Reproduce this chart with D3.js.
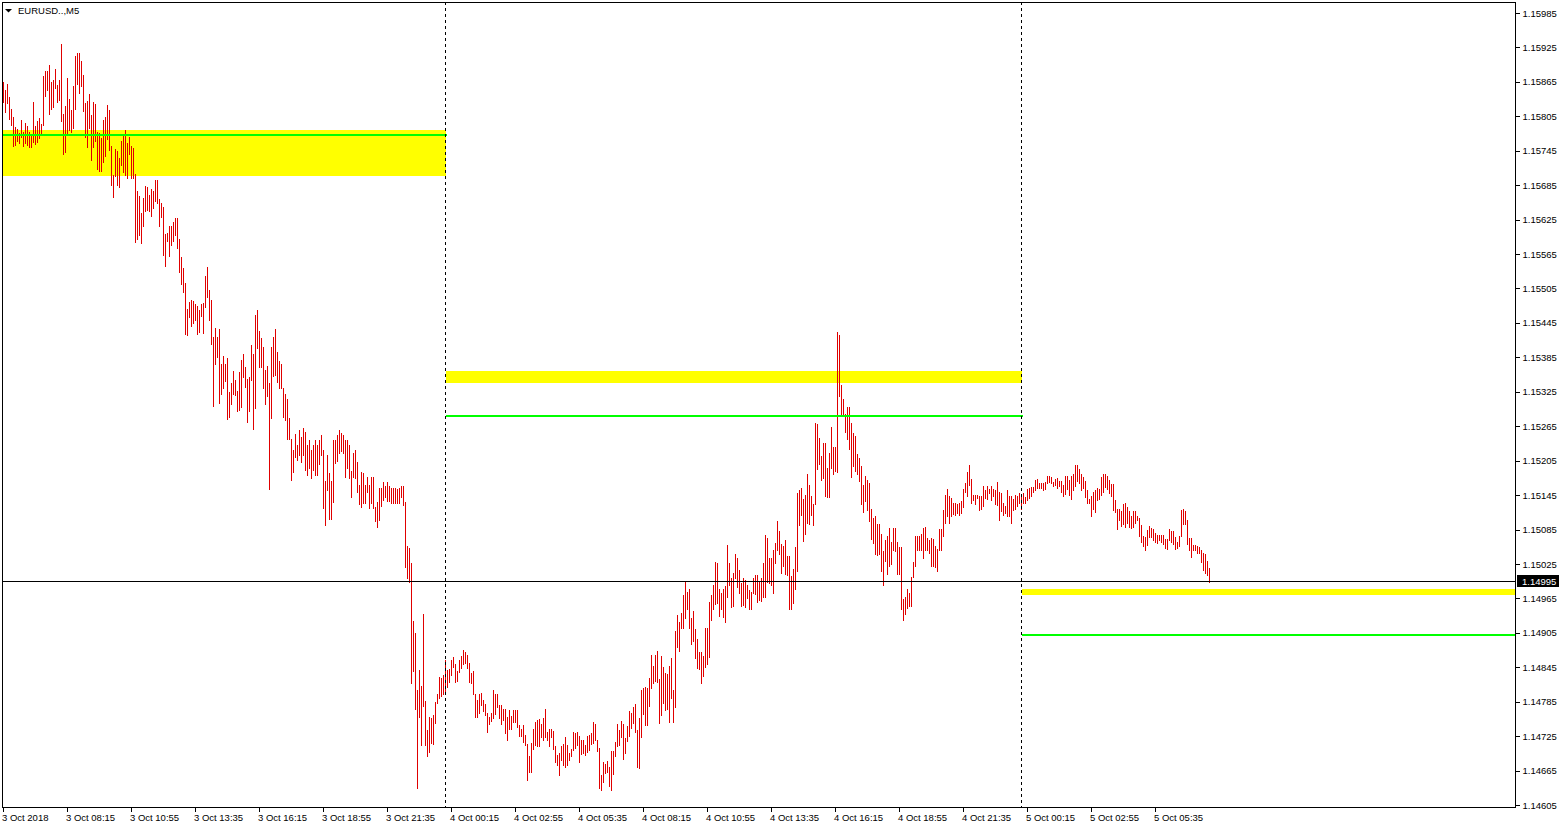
<!DOCTYPE html>
<html><head><meta charset="utf-8">
<script src="https://cdn.jsdelivr.net/npm/d3@7"></script>
<style>html,body{margin:0;padding:0;background:#fff;overflow:hidden}</style>
</head><body><svg id="c" width="1559" height="829"></svg>
<script>
const symbol = "EURUSD..,M5";
const highs = [
1.15864,1.15851,1.15861,1.15839,1.15818,1.15804,1.15787,1.15783,1.15776,1.15799,
1.15778,1.15793,1.15788,1.15778,1.15772,1.15830,1.15788,1.15797,1.15802,1.15792,
1.15875,1.15884,1.15884,1.15894,1.15864,1.15868,1.15887,1.15860,1.15868,1.15931,
1.15809,1.15823,1.15872,1.15835,1.15816,1.15858,1.15910,1.15916,1.15916,1.15902,
1.15877,1.15828,1.15832,1.15844,1.15807,1.15830,1.15826,1.15777,1.15776,1.15768,
1.15799,1.15804,1.15825,1.15816,1.15753,1.15703,1.15748,1.15745,1.15732,1.15762,
1.15771,1.15781,1.15759,1.15769,1.15753,1.15750,1.15704,1.15675,1.15666,1.15636,
1.15662,1.15684,1.15681,1.15668,1.15678,1.15675,1.15694,1.15694,1.15661,1.15654,
1.15647,1.15600,1.15602,1.15613,1.15614,1.15620,1.15627,1.15627,1.15592,1.15559,
1.15540,1.15514,1.15470,1.15481,1.15485,1.15484,1.15478,1.15474,1.15467,1.15478,
1.15480,1.15527,1.15542,1.15502,1.15485,1.15421,1.15437,1.15421,1.15434,1.15373,
1.15387,1.15373,1.15384,1.15325,1.15341,1.15361,1.15345,1.15327,1.15360,1.15380,
1.15391,1.15369,1.15347,1.15351,1.15406,1.15391,1.15459,1.15467,1.15431,1.15418,
1.15403,1.15363,1.15370,1.15340,1.15403,1.15421,1.15434,1.15394,1.15378,1.15373,
1.15331,1.15322,1.15313,1.15280,1.15242,1.15223,1.15252,1.15233,1.15258,1.15246,
1.15262,1.15255,1.15232,1.15241,1.15223,1.15232,1.15241,1.15232,1.15241,1.15250,
1.15223,1.15169,1.15215,1.15183,1.15170,1.15241,1.15241,1.15250,1.15258,1.15253,
1.15250,1.15241,1.15241,1.15232,1.15187,1.15218,1.15223,1.15203,1.15162,1.15186,
1.15184,1.15162,1.15176,1.15162,1.15176,1.15177,1.15125,1.15133,1.15157,1.15158,
1.15167,1.15160,1.15168,1.15160,1.15158,1.15157,1.15157,1.15155,1.15157,1.15161,
1.15160,1.15133,1.15056,1.15052,1.15026,1.14925,1.14905,1.14805,1.14840,1.14812,
1.14938,1.14786,1.14735,1.14758,1.14756,1.14761,1.14785,1.14799,1.14828,1.14827,
1.14831,1.14857,1.14840,1.14842,1.14857,1.14863,1.14850,1.14839,1.14857,1.14864,
1.14875,1.14872,1.14866,1.14852,1.14835,1.14839,1.14799,1.14788,1.14798,1.14801,
1.14788,1.14781,1.14766,1.14759,1.14766,1.14805,1.14799,1.14799,1.14780,1.14779,
1.14773,1.14773,1.14759,1.14770,1.14760,1.14770,1.14770,1.14770,1.14744,1.14737,
1.14744,1.14727,1.14712,1.14690,1.14713,1.14738,1.14750,1.14753,1.14754,1.14747,
1.14756,1.14773,1.14733,1.14737,1.14738,1.14734,1.14708,1.14692,1.14695,1.14708,
1.14712,1.14723,1.14709,1.14695,1.14702,1.14733,1.14730,1.14733,1.14725,1.14719,
1.14719,1.14709,1.14725,1.14727,1.14730,1.14750,1.14746,1.14719,1.14705,1.14657,
1.14680,1.14677,1.14682,1.14672,1.14699,1.14699,1.14715,1.14747,1.14735,1.14751,
1.14746,1.14721,1.14742,1.14769,1.14766,1.14776,1.14781,1.14736,1.14757,1.14806,
1.14808,1.14811,1.14809,1.14827,1.14866,1.14847,1.14866,1.14873,1.14824,1.14864,
1.14846,1.14835,1.14833,1.14847,1.14861,1.14806,1.14908,1.14936,1.14924,1.14939,
1.14971,1.14996,1.14977,1.14981,1.14931,1.14943,1.14911,1.14895,1.14871,1.14871,
1.14865,1.14913,1.14913,1.14959,1.14971,1.14988,1.15029,1.15027,1.14981,1.14975,
1.14982,1.14987,1.15058,1.15027,1.15000,1.15010,1.15042,1.15036,1.15014,1.14991,
1.15001,1.14997,1.14989,1.14979,1.14977,1.15001,1.15006,1.15006,1.14996,1.15001,
1.15026,1.15075,1.15071,1.15036,1.15036,1.15049,1.15062,1.15100,1.15083,1.15060,
1.15056,1.15067,1.15038,1.15038,1.15004,1.15017,1.15055,1.15149,1.15153,1.15157,
1.15139,1.15145,1.15182,1.15162,1.15143,1.15130,1.15271,1.15269,1.15244,1.15213,
1.15235,1.15236,1.15193,1.15218,1.15264,1.15228,1.15228,1.15430,1.15424,1.15337,
1.15312,1.15287,1.15298,1.15298,1.15270,1.15254,1.15248,1.15216,1.15209,1.15195,
1.15162,1.15178,1.15171,1.15166,1.15120,1.15105,1.15108,1.15094,1.15094,1.15077,
1.15048,1.15067,1.15073,1.15087,1.15064,1.15087,1.15087,1.15064,1.15055,1.15055,
1.14964,1.14967,1.14981,1.14975,1.15003,1.15029,1.15074,1.15074,1.15074,1.15078,
1.15087,1.15089,1.15070,1.15066,1.15070,1.15068,1.15056,1.15051,1.15086,1.15086,
1.15119,1.15146,1.15155,1.15144,1.15140,1.15131,1.15131,1.15130,1.15132,1.15134,
1.15155,1.15166,1.15186,1.15198,1.15173,1.15146,1.15146,1.15146,1.15143,1.15144,
1.15160,1.15154,1.15160,1.15156,1.15160,1.15155,1.15153,1.15168,1.15150,1.15149,
1.15131,1.15126,1.15154,1.15143,1.15143,1.15138,1.15146,1.15144,1.15149,1.15147,
1.15149,1.15142,1.15155,1.15157,1.15159,1.15159,1.15172,1.15173,1.15166,1.15166,
1.15166,1.15168,1.15179,1.15178,1.15176,1.15167,1.15173,1.15175,1.15169,1.15169,
1.15163,1.15179,1.15178,1.15171,1.15178,1.15182,1.15198,1.15198,1.15190,1.15182,
1.15176,1.15169,1.15154,1.15138,1.15144,1.15151,1.15154,1.15157,1.15155,1.15176,
1.15182,1.15182,1.15179,1.15171,1.15165,1.15164,1.15136,1.15121,1.15121,1.15117,
1.15130,1.15132,1.15124,1.15117,1.15108,1.15117,1.15117,1.15109,1.15105,1.15093,
1.15074,1.15072,1.15085,1.15092,1.15088,1.15086,1.15079,1.15076,1.15076,1.15076,
1.15076,1.15068,1.15068,1.15086,1.15083,1.15082,1.15072,1.15064,1.15074,1.15119,
1.15121,1.15117,1.15102,1.15070,1.15070,1.15058,1.15058,1.15056,1.15054,1.15049,
1.15044,1.15043,1.15031,1.15018];
const lows = [
1.15830,1.15813,1.15829,1.15800,1.15790,1.15754,1.15755,1.15762,1.15759,1.15769,
1.15753,1.15759,1.15755,1.15752,1.15752,1.15761,1.15756,1.15761,1.15767,1.15772,
1.15790,1.15840,1.15851,1.15809,1.15817,1.15822,1.15855,1.15830,1.15833,1.15797,
1.15739,1.15743,1.15772,1.15781,1.15778,1.15784,1.15818,1.15861,1.15845,1.15857,
1.15815,1.15769,1.15752,1.15785,1.15728,1.15752,1.15762,1.15713,1.15710,1.15710,
1.15726,1.15735,1.15765,1.15747,1.15685,1.15664,1.15701,1.15685,1.15682,1.15720,
1.15708,1.15703,1.15697,1.15739,1.15697,1.15697,1.15586,1.15591,1.15599,1.15584,
1.15613,1.15640,1.15642,1.15640,1.15632,1.15645,1.15658,1.15654,1.15614,1.15629,
1.15563,1.15545,1.15588,1.15562,1.15581,1.15588,1.15598,1.15575,1.15533,1.15513,
1.15498,1.15426,1.15424,1.15456,1.15440,1.15444,1.15450,1.15426,1.15430,1.15457,
1.15428,1.15473,1.15491,1.15450,1.15409,1.15301,1.15374,1.15386,1.15306,1.15321,
1.15331,1.15344,1.15277,1.15281,1.15303,1.15322,1.15319,1.15291,1.15294,1.15298,
1.15351,1.15333,1.15273,1.15292,1.15346,1.15261,1.15296,1.15402,1.15369,1.15369,
1.15332,1.15303,1.15318,1.15155,1.15279,1.15352,1.15355,1.15342,1.15331,1.15331,
1.15281,1.15276,1.15242,1.15242,1.15171,1.15186,1.15212,1.15207,1.15215,1.15203,
1.15215,1.15189,1.15180,1.15192,1.15175,1.15189,1.15180,1.15180,1.15199,1.15215,
1.15123,1.15093,1.15154,1.15103,1.15104,1.15133,1.15201,1.15204,1.15218,1.15221,
1.15218,1.15177,1.15193,1.15174,1.15142,1.15176,1.15174,1.15151,1.15129,1.15125,
1.15132,1.15132,1.15151,1.15123,1.15132,1.15122,1.15099,1.15090,1.15101,1.15126,
1.15137,1.15142,1.15135,1.15135,1.15132,1.15131,1.15131,1.15132,1.15131,1.15142,
1.15128,1.15020,1.15000,1.14994,1.14818,1.14839,1.14773,1.14634,1.14759,1.14709,
1.14777,1.14709,1.14690,1.14698,1.14713,1.14711,1.14748,1.14782,1.14792,1.14795,
1.14799,1.14804,1.14810,1.14820,1.14831,1.14845,1.14820,1.14821,1.14836,1.14843,
1.14850,1.14852,1.14843,1.14820,1.14818,1.14799,1.14758,1.14758,1.14766,1.14779,
1.14769,1.14761,1.14733,1.14747,1.14752,1.14756,1.14764,1.14776,1.14756,1.14747,
1.14753,1.14730,1.14719,1.14737,1.14737,1.14750,1.14750,1.14741,1.14725,1.14725,
1.14715,1.14709,1.14649,1.14663,1.14663,1.14703,1.14709,1.14708,1.14708,1.14724,
1.14718,1.14724,1.14718,1.14708,1.14724,1.14703,1.14680,1.14674,1.14657,1.14683,
1.14674,1.14672,1.14674,1.14683,1.14690,1.14700,1.14705,1.14709,1.14680,1.14694,
1.14695,1.14692,1.14698,1.14700,1.14711,1.14713,1.14718,1.14699,1.14634,1.14631,
1.14645,1.14660,1.14663,1.14638,1.14632,1.14659,1.14690,1.14708,1.14709,1.14723,
1.14686,1.14696,1.14717,1.14725,1.14740,1.14748,1.14732,1.14671,1.14670,1.14724,
1.14764,1.14745,1.14745,1.14778,1.14809,1.14818,1.14821,1.14820,1.14748,1.14762,
1.14783,1.14771,1.14773,1.14750,1.14792,1.14750,1.14776,1.14881,1.14874,1.14914,
1.14914,1.14930,1.14946,1.14913,1.14885,1.14891,1.14861,1.14843,1.14842,1.14817,
1.14830,1.14846,1.14850,1.14863,1.14927,1.14946,1.14955,1.14957,1.14935,1.14946,
1.14933,1.14924,1.14968,1.14988,1.14950,1.14952,1.15001,1.14985,1.14974,1.14952,
1.14954,1.14950,1.14965,1.14947,1.14947,1.14974,1.14972,1.14959,1.14962,1.14961,
1.14968,1.14967,1.14994,1.14992,1.14989,1.14975,1.15027,1.15049,1.15043,1.15010,
1.15021,1.15007,1.15006,1.14947,1.14946,1.14957,1.14981,1.15013,1.15093,1.15110,
1.15065,1.15078,1.15096,1.15094,1.15110,1.15093,1.15129,1.15190,1.15200,1.15171,
1.15174,1.15144,1.15142,1.15142,1.15192,1.15182,1.15187,1.15186,1.15318,1.15284,
1.15282,1.15255,1.15242,1.15226,1.15177,1.15196,1.15187,1.15182,1.15170,1.15130,
1.15115,1.15135,1.15119,1.15100,1.15068,1.15062,1.15042,1.15040,1.15043,1.15013,
1.14989,1.15030,1.15007,1.15021,1.15025,1.15049,1.15048,1.15007,1.15008,1.14946,
1.14927,1.14938,1.14948,1.14951,1.14952,1.15002,1.15022,1.15050,1.15050,1.15050,
1.15035,1.15050,1.15050,1.15044,1.15021,1.15022,1.15019,1.15012,1.15050,1.15050,
1.15073,1.15096,1.15109,1.15097,1.15109,1.15112,1.15111,1.15114,1.15111,1.15114,
1.15125,1.15151,1.15144,1.15163,1.15132,1.15137,1.15130,1.15140,1.15119,1.15121,
1.15126,1.15140,1.15138,1.15149,1.15137,1.15143,1.15130,1.15128,1.15102,1.15117,
1.15111,1.15114,1.15108,1.15108,1.15096,1.15119,1.15121,1.15126,1.15131,1.15121,
1.15131,1.15131,1.15137,1.15140,1.15143,1.15151,1.15153,1.15157,1.15157,1.15157,
1.15154,1.15155,1.15166,1.15167,1.15166,1.15161,1.15163,1.15157,1.15160,1.15150,
1.15143,1.15147,1.15155,1.15146,1.15138,1.15153,1.15161,1.15170,1.15166,1.15154,
1.15157,1.15142,1.15132,1.15131,1.15109,1.15121,1.15115,1.15137,1.15138,1.15146,
1.15150,1.15159,1.15155,1.15149,1.15143,1.15119,1.15115,1.15086,1.15102,1.15092,
1.15095,1.15090,1.15097,1.15089,1.15088,1.15089,1.15097,1.15102,1.15074,1.15063,
1.15057,1.15049,1.15058,1.15072,1.15072,1.15067,1.15063,1.15061,1.15066,1.15064,
1.15060,1.15053,1.15051,1.15066,1.15063,1.15060,1.15051,1.15053,1.15056,1.15074,
1.15095,1.15095,1.15060,1.15049,1.15037,1.15050,1.15049,1.15044,1.15044,1.15029,
1.15014,1.15010,1.15006,1.14993];
const timeLabels = ["3 Oct 2018","3 Oct 08:15","3 Oct 10:55","3 Oct 13:35","3 Oct 16:15","3 Oct 18:55","3 Oct 21:35",
  "4 Oct 00:15","4 Oct 02:55","4 Oct 05:35","4 Oct 08:15","4 Oct 10:55","4 Oct 13:35","4 Oct 16:15","4 Oct 18:55","4 Oct 21:35",
  "5 Oct 00:15","5 Oct 02:55","5 Oct 05:35"];
const barsPerLabel = 32;
const priceTicks = [1.15985,1.15925,1.15865,1.15805,1.15745,1.15685,1.15625,1.15565,1.15505,1.15445,1.15385,1.15325,
  1.15265,1.15205,1.15145,1.15085,1.15025,1.14965,1.14905,1.14845,1.14785,1.14725,1.14665,1.14605];
const currentPrice = 1.14995;
const daySeparators = [221, 509];           // bar index of 4 Oct 00:00 and 5 Oct 00:00
const zoneFrom = [-10, 221.5, 509.5];       // zones in bar-index units
const zoneTo = [221.5, 509.5, 800];
const zoneHigh = [1.15781, 1.15361, 1.14981];
const zoneLow = [1.15701, 1.15340, 1.14971];
const zoneLevel = [1.15772, 1.15282, 1.14901];

const W = 1559, H = 829;
const P = {l: 2, t: 2, r: 1515, b: 807};
const FONT = "'Liberation Sans', Arial, sans-serif";
const svg = d3.select("#c");
const x = d3.scaleLinear().domain([0, 756]).range([3, 1515]);
const y = d3.scaleLinear().domain([1.14605, 1.15985]).range([805, 13]);
const R = v => Math.round(v);

svg.append("rect").attr("width", W).attr("height", H).attr("fill", "#fff");
svg.append("defs").append("clipPath").attr("id", "pc").append("rect")
  .attr("x", P.l + 1).attr("y", P.t + 1).attr("width", P.r - P.l - 1).attr("height", P.b - P.t - 1);
const g = svg.append("g").attr("clip-path", "url(#pc)").attr("shape-rendering", "crispEdges");

const zi = zoneHigh.map((d, i) => i);
g.selectAll("rect.zone").data(zi).join("rect").attr("class", "zone")
  .attr("x", i => R(x(zoneFrom[i]))).attr("width", i => R(x(zoneTo[i])) - R(x(zoneFrom[i])))
  .attr("y", i => R(y(zoneHigh[i]))).attr("height", i => R(y(zoneLow[i])) - R(y(zoneHigh[i])))
  .attr("fill", "#ffff00");

g.selectAll("rect.bar").data(highs.map((h, i) => i)).join("rect").attr("class", "bar")
  .attr("x", i => R(x(i))).attr("width", 1)
  .attr("y", i => R(y(highs[i])))
  .attr("height", i => Math.max(1, R(y(lows[i])) - R(y(highs[i])) + 1))
  .attr("fill", "#e00000");

g.selectAll("rect.lvl").data(zi).join("rect").attr("class", "lvl")
  .attr("x", i => R(x(zoneFrom[i]))).attr("width", i => R(x(zoneTo[i])) - R(x(zoneFrom[i])) + 1)
  .attr("y", i => R(y(zoneLevel[i])) - 1).attr("height", 2)
  .attr("fill", "#00ff00");

g.selectAll("line.sep").data(daySeparators).join("line").attr("class", "sep")
  .attr("x1", d => R(x(d)) + 0.5).attr("x2", d => R(x(d)) + 0.5)
  .attr("y1", P.t).attr("y2", P.b)
  .attr("stroke", "#000").attr("stroke-width", 1).attr("stroke-dasharray", "3,3");

const cy = Math.floor(y(currentPrice)) + 0.5;
g.append("line").attr("x1", P.l).attr("x2", P.r).attr("y1", cy).attr("y2", cy)
  .attr("stroke", "#000").attr("stroke-width", 1);

svg.append("rect").attr("x", P.l + 0.5).attr("y", P.t + 0.5).attr("width", P.r - P.l).attr("height", P.b - P.t)
  .attr("fill", "none").attr("stroke", "#000").attr("shape-rendering", "crispEdges");

const ay = svg.append("g").attr("transform", `translate(${P.r + 0.5},0)`)
  .call(d3.axisRight(y).tickValues(priceTicks).tickSize(4).tickPadding(3).tickFormat(d3.format(".5f")));
ay.select(".domain").remove();
ay.attr("font-family", FONT).attr("font-size", 9.5).attr("shape-rendering", "crispEdges");
ay.selectAll("text").attr("fill", "#000");

const ax = svg.append("g").attr("transform", `translate(0,${P.b + 0.5})`)
  .call(d3.axisBottom(x).tickValues(timeLabels.map((t, i) => i * barsPerLabel)).tickSize(4).tickPadding(3)
    .tickFormat((d, i) => timeLabels[i]));
ax.select(".domain").remove();
ax.attr("font-family", FONT).attr("font-size", 9.5).attr("shape-rendering", "crispEdges");
ax.selectAll("text").attr("text-anchor", "start").attr("dx", -1.5).attr("fill", "#000");

// current price tag
svg.append("rect").attr("x", P.r + 2).attr("y", R(y(currentPrice)) - 6).attr("width", W - P.r - 2).attr("height", 12).attr("fill", "#000");
svg.append("text").attr("x", P.r + 7).attr("y", R(y(currentPrice)) + 3.5)
  .attr("font-family", FONT).attr("font-size", 9.5).attr("fill", "#fff").text(d3.format(".5f")(currentPrice));

// title
svg.append("path").attr("d", "M5,9 L12,9 L8.5,12.5 Z").attr("fill", "#000");
svg.append("text").attr("x", 18).attr("y", 14).attr("font-family", FONT).attr("font-size", 9.5).attr("fill", "#000").text(symbol);
</script></body></html>
